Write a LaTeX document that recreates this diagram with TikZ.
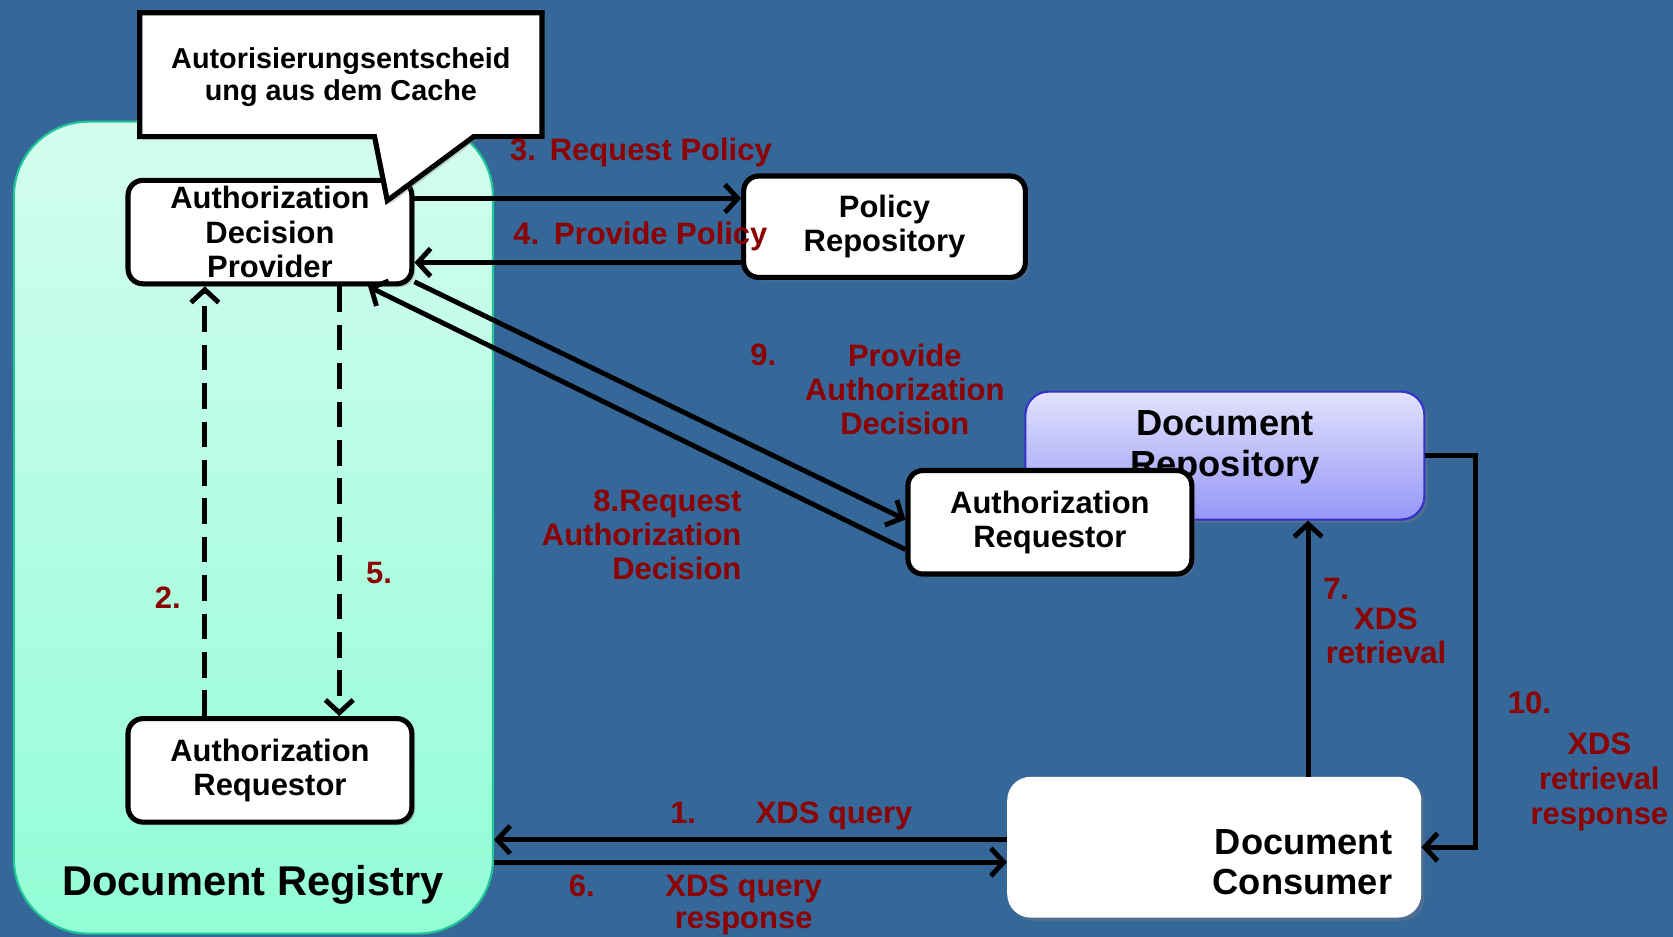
\documentclass[tikz,border=0pt]{standalone}
\usepackage{fontspec}
\setmainfont{Liberation Sans}
\usetikzlibrary{arrows.meta,shadows}

\definecolor{bgblue}{RGB}{53,103,153}
\definecolor{regtop}{RGB}{212,253,238}
\definecolor{regbot}{RGB}{146,253,214}
\definecolor{regedge}{RGB}{30,200,150}
\definecolor{reptop}{RGB}{226,226,252}
\definecolor{repbot}{RGB}{150,150,248}
\definecolor{repedge}{RGB}{51,51,204}
\definecolor{stepred}{RGB}{140,0,0}

\begin{document}
\begin{tikzpicture}[x=1pt,y=-1pt,
  softshadow/.style={drop shadow={shadow xshift=3pt, shadow yshift=-3pt, opacity=0.35}},
  lbl/.style={text=stepred, font=\bfseries\fontsize{29}{32}\selectfont, inner sep=0pt},
  boxtxt/.style={font=\bfseries\fontsize{29}{32}\selectfont, align=center},
  actor/.style={boxtxt, draw=black, line width=4.8pt, fill=white, rounded corners=14pt,
    minimum width=266pt, minimum height=97pt, inner sep=0pt, softshadow},
  arr/.style={draw=black, line width=4.6pt, -{Straight Barb[length=12pt,width=26pt]}},
  dasharr/.style={arr, dash pattern=on 24pt off 12pt},
]
\useasboundingbox (0,0) rectangle (1568,878);
\fill[bgblue] (0,0) rectangle (1568,878);

% Document Registry container
\node[draw=regedge, line width=2pt, top color=regtop, bottom color=regbot,
      rounded corners=70pt, minimum width=449pt, minimum height=761pt, inner sep=0pt]
      (reg) at (237.5,494.5) {};
\node[font=\bfseries\fontsize{39}{44}\selectfont, anchor=base, inner sep=0pt]
      (regname) at (237,839) {Document Registry};

% actors
\node[actor] (adp) at (253,217.5) {Authorization\\Decision\\Provider};
\node[actor] (arl) at (253,722) {Authorization\\Requestor};
\node[actor, minimum width=264pt, minimum height=95pt] (pol) at (829,212.5) {Policy\\Repository};

\node[draw=repedge, line width=2pt, top color=reptop, bottom color=repbot,
      rounded corners=22pt, minimum width=374pt, minimum height=120pt, inner sep=0pt, softshadow]
      (drep) at (1148,427) {};
\node[font=\bfseries\fontsize{34}{38}\selectfont, align=center, inner sep=0pt]
      (dreptext) at (1148,419) {Document\\Repository};

\node[actor] (arr) at (984,489.5) {Authorization\\Requestor};

\node[fill=white, rounded corners=22pt, minimum width=388pt, minimum height=132pt,
      inner sep=0pt, softshadow] (dc) at (1138,794) {};
\node[font=\bfseries\fontsize{34}{38}\selectfont, align=right, inner sep=0pt, anchor=east]
      (dctext) at (1305,808) {Document\\Consumer};

% speech bubble over the decision provider
\coordinate (calltip) at (363,188);
\draw[line width=4.8pt, fill=white, softshadow]
  (131,128) -- (131,12) -- (508,12) -- (508,128) -- (444,128) -- (calltip) -- (351,128) -- cycle;
\node[font=\bfseries\fontsize{27}{30}\selectfont, align=center, inner sep=0pt]
  (calltext) at (319.5,72) {Autorisierungsentscheid\\ung aus dem Cache};

% policy exchange
\coordinate (p3) at ([yshift=31.5pt]adp.east);
\coordinate (p4) at ([yshift=-28.5pt]adp.east);
\draw[arr] (p3) -- (p3 -| pol.west);
\draw[arr] (p4 -| pol.west) -- (p4);

% decision request / response between requestor and provider
\draw[arr] (adp.-19) -- ([yshift=2.5pt]arr.west);
\draw[arr] ([yshift=-25.5pt]arr.west) -- ([xshift=92pt]adp.south);

% cache lookup inside the registry
\draw[dasharr] ([xshift=-61pt]arl.north) -- ([xshift=-61pt]adp.south);
\draw[dasharr] ([xshift=65pt]adp.south) -- ([xshift=65pt]arl.north);

% retrieval
\coordinate (p7) at ([xshift=88pt]dc.north);
\draw[arr] (p7) -- (p7 |- drep.south);
\draw[arr] (drep.east) -- ++(47,0) |- (dc.east);

% query
\coordinate (p1) at ([yshift=7pt]dc.west);
\coordinate (p6) at ([yshift=-14pt]dc.west);
\draw[arr] (p1) -- (p1 -| reg.east);
\draw[arr] (p6 -| reg.east) -- (p6);

% step labels
\node[lbl, anchor=base west] (l3) at (478,150) {3.\hspace{13pt}Request Policy};
\node[lbl, anchor=base west] (l4) at (481,229) {4.\hspace{14pt}Provide Policy};
\node[lbl, anchor=base west] (l9n) at (703,343) {9.};
\node[lbl, align=center] (l9) at (848,365) {Provide\\Authorization\\Decision};
\node[lbl, align=right, anchor=east] (l8) at (695,501) {8.Request\\Authorization\\Decision};
\node[lbl, anchor=base west] (l2) at (145,570) {2.};
\node[lbl, anchor=base west] (l5) at (343,547) {5.};
\node[lbl, anchor=base west] (l7n) at (1240,562) {7.};
\node[lbl, align=center] (l7) at (1299,596) {XDS\\retrieval};
\node[lbl, anchor=base west] (l10n) at (1413,669) {10.};
\node[lbl, align=center, font=\bfseries\fontsize{29}{33}\selectfont] (l10) at (1499,733) {XDS\\retrieval\\response};
\node[lbl, anchor=base west] (l1) at (628,772) {1.\hspace{56pt}XDS query};
\node[lbl, anchor=base west] (l6n) at (533,840) {6.};
\node[lbl, align=center, font=\bfseries\fontsize{29}{30}\selectfont] (l6) at (697,848) {XDS query\\response};
\end{tikzpicture}
\end{document}
